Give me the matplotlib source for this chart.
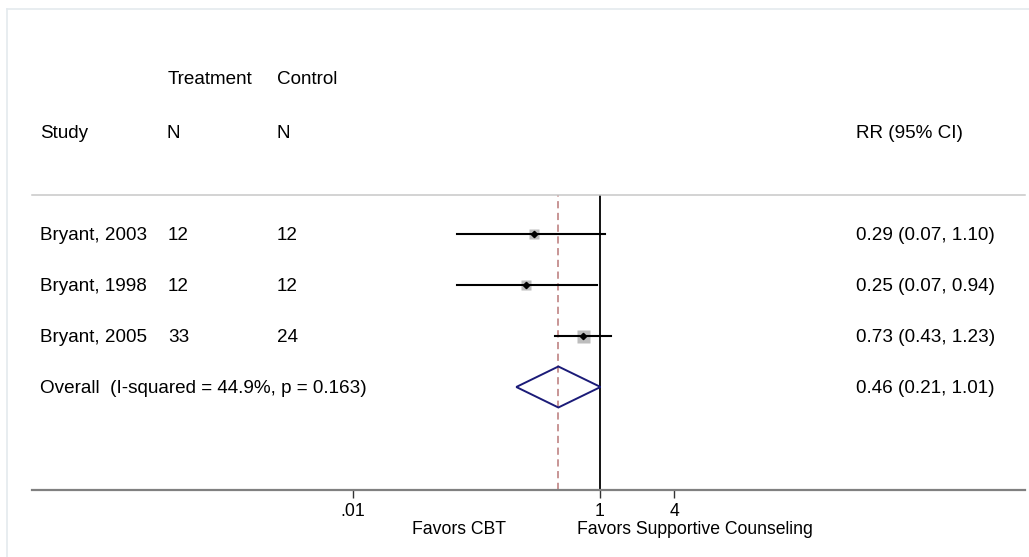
import matplotlib
matplotlib.use("Agg")
from matplotlib import pyplot as plt
from matplotlib.patches import Polygon
from matplotlib.transforms import blended_transform_factory
import numpy as np

# study rows
studies = ["Bryant, 2003", "Bryant, 1998", "Bryant, 2005"]
n_treat = [12, 12, 33]
n_ctrl = [12, 12, 24]
rr = [0.29, 0.25, 0.73]
ci_low = [0.07, 0.07, 0.43]
ci_high = [1.10, 0.94, 1.23]
weights = [26, 27, 47]

overall_label = "Overall  (I-squared = 44.9%, p = 0.163)"
overall_rr = 0.46
overall_low = 0.21
overall_high = 1.01

xticks = [0.01, 1, 4]
xtick_labels = [".01", "1", "4"]

W, H = 1029, 557
plt.rcParams['font.family'] = ['Liberation Sans', 'DejaVu Sans']
FS = 13.6
FS_AX = 12.7

fig = plt.figure(figsize=(W / 100, H / 100), dpi=100)
fx = lambda px: px / W
fy = lambda py: 1 - py / H

ax = fig.add_axes([fx(32), fy(490), fx(1025) - fx(32), fy(195) - fy(490)])
ax.set_xscale('log')
ax.set_xlim(10 ** -4.599, 10 ** 3.441)
ax.set_ylim(-1.02, 4.765)

rows = [4, 3, 2]
overall_y = 1

for s in ['left', 'right']:
    ax.spines[s].set_visible(False)
ax.spines['top'].set_color('#c8c8c8')
ax.spines['top'].set_linewidth(1.1)
ax.spines['bottom'].set_color('#808080')
ax.spines['bottom'].set_linewidth(1.6)

ax.set_yticks([])
ax.set_xticks(xticks)
ax.set_xticklabels(xtick_labels, fontsize=FS_AX)
ax.minorticks_off()
ax.tick_params(axis='x', length=5.5, width=1, color='#333333', pad=4)

ax.axvline(1, color='black', lw=1.3, zorder=1)
ax.axvline(overall_rr, color='#c48c8c', lw=1.3, ls=(0, (4, 2.5)), zorder=1)

k = 13 / np.sqrt(max(weights))
for y, est, lo, hi, w in zip(rows, rr, ci_low, ci_high, weights):
    ax.plot([lo, hi], [y, y], color='black', lw=1.5, zorder=3)
    ax.plot(est, y, marker='s', ms=k * np.sqrt(w) * 0.72, color='#bdbdbd', mec='none', zorder=2)
    ax.plot(est, y, marker='D', ms=3.2, color='black', zorder=4)

h = 0.402
diamond = Polygon([(overall_low, overall_y), (overall_rr, overall_y + h),
                   (overall_high, overall_y), (overall_rr, overall_y - h)],
                  closed=True, fill=False, edgecolor='#1b1b78', lw=1.4, zorder=3)
ax.add_patch(diamond)

# text columns (nudged 1.5px below the marks like the original)
tr = blended_transform_factory(fig.transFigure, ax.transData)
dy = -1.5 / 51
for y, name, nt, nc, est, lo, hi in zip(rows, studies, n_treat, n_ctrl, rr, ci_low, ci_high):
    ax.text(fx(40), y + dy, name, transform=tr, va='center', fontsize=FS)
    ax.text(fx(168), y + dy, str(nt), transform=tr, va='center', fontsize=FS)
    ax.text(fx(277), y + dy, str(nc), transform=tr, va='center', fontsize=FS)
    ax.text(fx(856), y + dy, f"{est:.2f} ({lo:.2f}, {hi:.2f})", transform=tr, va='center', fontsize=FS)
ax.text(fx(40), overall_y + dy, overall_label, transform=tr, va='center', fontsize=FS)
ax.text(fx(856), overall_y + dy, f"{overall_rr:.2f} ({overall_low:.2f}, {overall_high:.2f})",
        transform=tr, va='center', fontsize=FS)

fig.text(fx(168), fy(80), "Treatment", va='center', fontsize=FS)
fig.text(fx(277), fy(80), "Control", va='center', fontsize=FS)
fig.text(fx(40), fy(134), "Study", va='center', fontsize=FS)
fig.text(fx(167), fy(134), "N", va='center', fontsize=FS)
fig.text(fx(277), fy(134), "N", va='center', fontsize=FS)
fig.text(fx(856), fy(134), "RR (95% CI)", va='center', fontsize=FS)

fig.text(fx(506), fy(529), "Favors CBT", ha='right', va='center', fontsize=FS_AX)
fig.text(fx(577), fy(529), "Favors Supportive Counseling", ha='left', va='center', fontsize=FS_AX)

# light outer frame
fig.add_artist(plt.Line2D([fx(7), fx(1029)], [fy(9), fy(9)], color='#e4eaee', lw=1.2))
fig.add_artist(plt.Line2D([fx(7), fx(7)], [fy(9), 0], color='#e4eaee', lw=1.2))

fig.savefig("out.png", dpi=100)
